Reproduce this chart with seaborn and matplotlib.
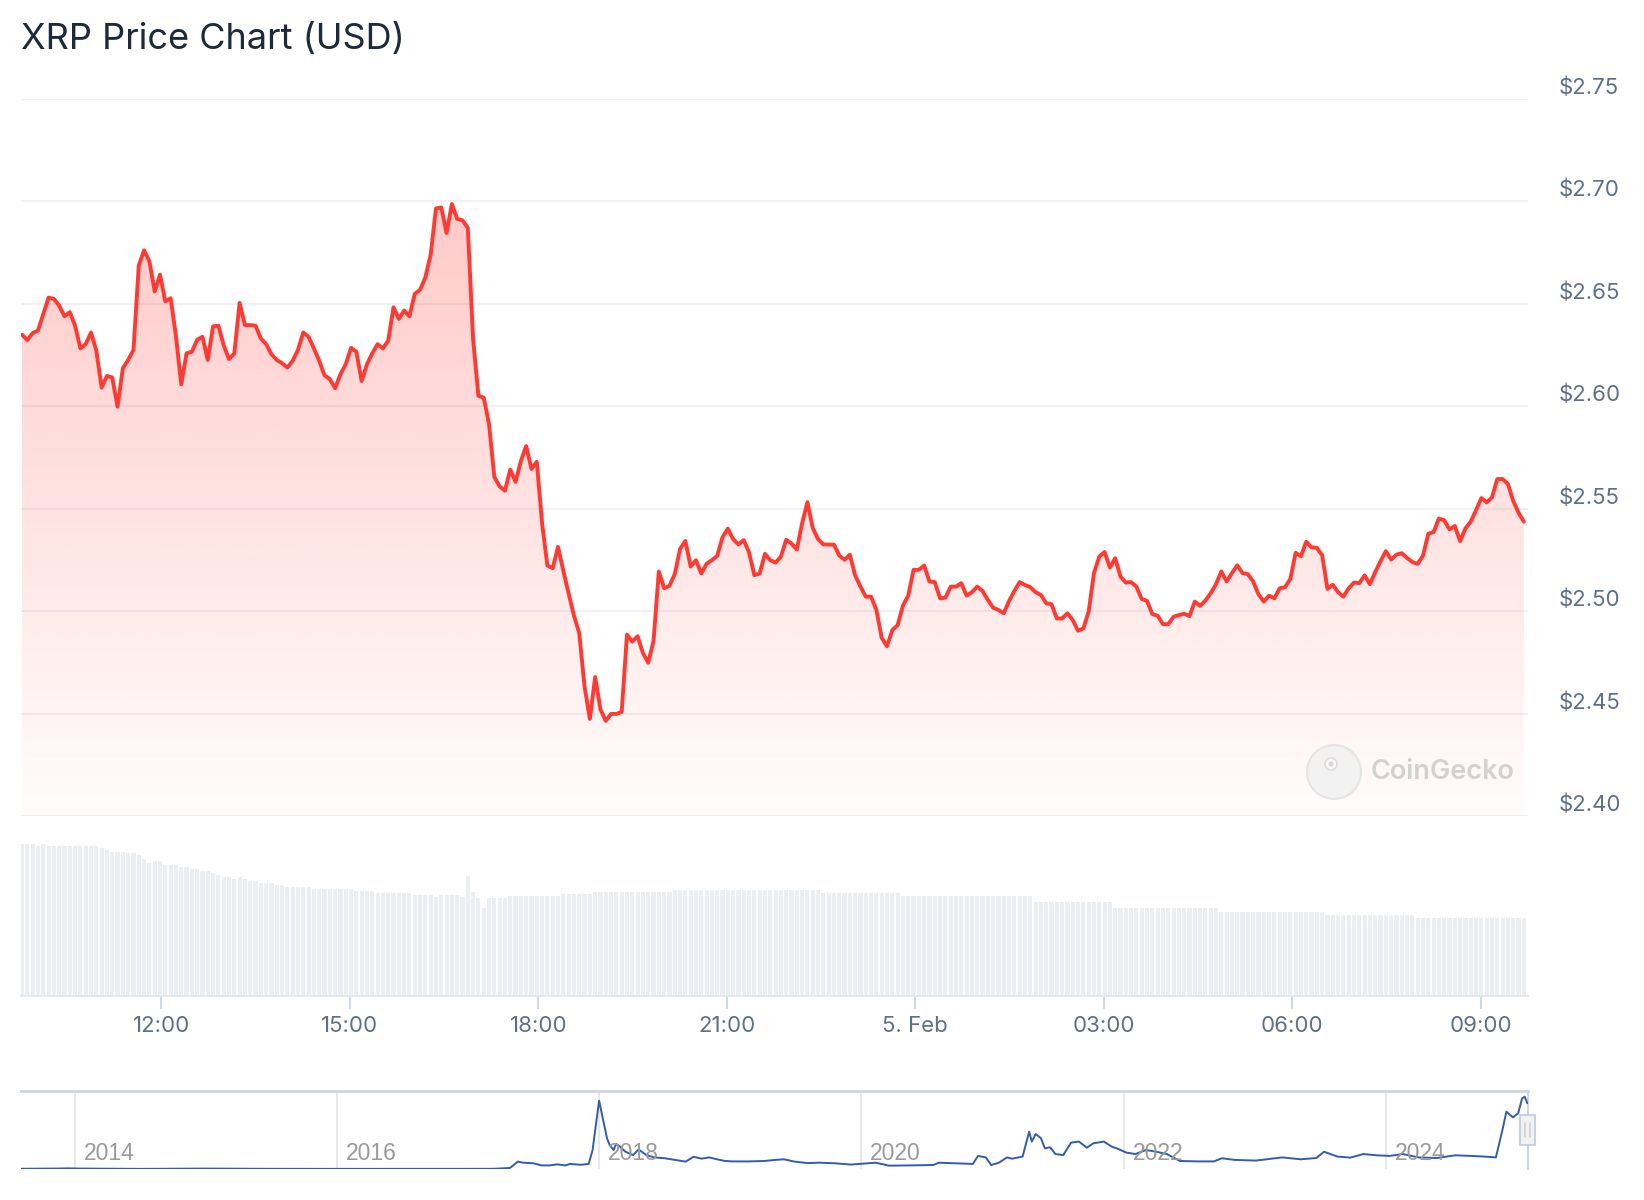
import numpy as np
import pandas as pd
import matplotlib
matplotlib.use("Agg")
import matplotlib.pyplot as plt
import matplotlib.transforms as mtransforms
import seaborn as sns
from matplotlib.patches import Ellipse, FancyBboxPatch
from matplotlib.colors import to_rgb

# ---------------- data ----------------
price = [
    2.6348, 2.6322, 2.6356, 2.6368, 2.6449, 2.6529, 2.6523, 2.6490, 2.6438, 2.6458,
    2.6392, 2.6281, 2.6302, 2.6359, 2.6270, 2.6090, 2.6147, 2.6139, 2.5997, 2.6185,
    2.6225, 2.6274, 2.6686, 2.6760, 2.6706, 2.6559, 2.6641, 2.6510, 2.6526, 2.6343,
    2.6106, 2.6257, 2.6265, 2.6323, 2.6338, 2.6225, 2.6389, 2.6392, 2.6297, 2.6229,
    2.6257, 2.6503, 2.6395, 2.6395, 2.6392, 2.6330, 2.6302, 2.6253, 2.6225, 2.6209,
    2.6188, 2.6221, 2.6274, 2.6359, 2.6338, 2.6281, 2.6221, 2.6150, 2.6131, 2.6087,
    2.6155, 2.6204, 2.6284, 2.6265, 2.6122, 2.6204, 2.6257, 2.6302, 2.6281, 2.6319,
    2.6482, 2.6425, 2.6466, 2.6438, 2.6547,
    2.6567, 2.6627, 2.6738, 2.6964, 2.6969, 2.6844, 2.6986, 2.6913, 2.6906, 2.6870,
    2.6327, 2.6050, 2.6041, 2.5913, 2.5654, 2.5608, 2.5587, 2.5690, 2.5630, 2.5731,
    2.5805, 2.5693, 2.5728, 2.5428, 2.5222, 2.5209, 2.5313, 2.5197, 2.5086, 2.4978,
    2.4892, 2.4632, 2.4474, 2.4678, 2.4520, 2.4464, 2.4498, 2.4498, 2.4508, 2.4885,
    2.4851, 2.4877, 2.4795, 2.4748, 2.4854, 2.5193, 2.5111, 2.5123, 2.5180, 2.5303,
    2.5342, 2.5217, 2.5248, 2.5183, 2.5231, 2.5248, 2.5269, 2.5360, 2.5402, 2.5351,
    2.5325, 2.5346, 2.5286, 2.5175, 2.5183, 2.5279, 2.5248, 2.5236, 2.5265, 2.5348,
    2.5329, 2.5300, 2.5428, 2.5531, 2.5406, 2.5351, 2.5325,
    2.5324, 2.5324, 2.5271, 2.5250, 2.5275, 2.5173, 2.5119, 2.5070, 2.5070, 2.5005,
    2.4869, 2.4828, 2.4907, 2.4931, 2.5026, 2.5075, 2.5201, 2.5201, 2.5222, 2.5144,
    2.5141, 2.5062, 2.5065, 2.5119, 2.5119, 2.5136, 2.5075, 2.5092, 2.5119, 2.5098,
    2.5054, 2.5016, 2.5005, 2.4989, 2.5049, 2.5098, 2.5141, 2.5127, 2.5116, 2.5092,
    2.5078, 2.5038, 2.5033, 2.4964, 2.4964, 2.4989, 2.4956, 2.4904, 2.4915, 2.4997,
    2.5185, 2.5266, 2.5288, 2.5212, 2.5258, 2.5168, 2.5139, 2.5141, 2.5119, 2.5059,
    2.5049, 2.4985, 2.4977, 2.4936, 2.4936, 2.4972,
    2.4980, 2.4987, 2.4975, 2.5046, 2.5025, 2.5051, 2.5087, 2.5131, 2.5193, 2.5144,
    2.5185, 2.5223, 2.5185, 2.5180, 2.5144, 2.5082, 2.5046, 2.5075, 2.5062, 2.5111,
    2.5116, 2.5156, 2.5284, 2.5267, 2.5338, 2.5311, 2.5308, 2.5272, 2.5108, 2.5128,
    2.5092, 2.5070, 2.5111, 2.5139, 2.5136, 2.5174, 2.5131, 2.5190, 2.5243, 2.5292,
    2.5251, 2.5275, 2.5282, 2.5259, 2.5239, 2.5230, 2.5270, 2.5377, 2.5385, 2.5451,
    2.5443, 2.5398, 2.5415, 2.5341, 2.5403, 2.5436, 2.5492, 2.5551, 2.5530, 2.5554,
    2.5644, 2.5644, 2.5620, 2.5538, 2.5480, 2.5436,
]

# 24h volume (billion USD, approximate bar heights)
volume = [
    15.2, 15.2, 15.2, 15.0, 15.2, 15.0, 15.0, 15.0, 15.0, 15.0, 15.0, 15.0, 15.0, 15.0, 15.0, 14.8, 14.6, 14.4, 14.4, 14.4,
    14.3, 14.3, 14.1, 13.7, 13.3, 13.5, 13.5, 13.1, 13.1, 13.1, 12.9, 12.9, 12.7, 12.7, 12.5, 12.5, 12.3, 12.1, 11.9, 11.9,
    11.7, 11.9, 11.7, 11.5, 11.5, 11.3, 11.3, 11.3, 11.1, 11.1, 10.9, 10.9, 10.9, 10.9, 10.9, 10.7, 10.7, 10.7, 10.7, 10.7,
    10.7, 10.7, 10.7, 10.5, 10.5, 10.5, 10.5, 10.3, 10.3, 10.3, 10.3, 10.3, 10.3, 10.3, 10.1, 10.1, 10.1, 10.1, 9.9, 10.1,
    10.1, 10.1, 10.1, 9.9, 12.0, 10.4, 9.8, 8.8, 9.8, 9.8, 9.8, 9.8, 10.0, 10.0, 10.0, 10.0, 10.0, 10.0, 10.0, 10.0,
    10.0, 10.0, 10.2, 10.2, 10.2, 10.2, 10.2, 10.2, 10.4, 10.4, 10.4, 10.4, 10.4, 10.4, 10.4, 10.4, 10.4, 10.4, 10.4, 10.4,
    10.4, 10.4, 10.4, 10.6, 10.6, 10.6, 10.6, 10.6, 10.6, 10.6, 10.6, 10.6, 10.6, 10.6, 10.6, 10.6, 10.6, 10.6, 10.6, 10.6,
    10.6, 10.6, 10.6, 10.6, 10.6, 10.6, 10.6, 10.6, 10.6, 10.6, 10.6, 10.3, 10.3, 10.3, 10.3, 10.3, 10.3, 10.3, 10.3, 10.3,
    10.3, 10.3, 10.3, 10.3, 10.3, 10.3, 10.0, 10.0, 10.0, 10.0, 10.0, 10.0, 10.0, 10.0, 10.0, 10.0, 10.0, 10.0, 10.0, 10.0,
    10.0, 10.0, 10.0, 10.0, 10.0, 10.0, 10.0, 10.0, 10.0, 10.0, 10.0, 9.4, 9.4, 9.4, 9.4, 9.4, 9.4, 9.4, 9.4, 9.4,
    9.4, 9.4, 9.4, 9.4, 9.4, 9.4, 8.8, 8.8, 8.8, 8.8, 8.8, 8.8, 8.8, 8.8, 8.8, 8.8, 8.8, 8.8, 8.8, 8.8,
    8.8, 8.8, 8.8, 8.8, 8.8, 8.8, 8.4, 8.4, 8.4, 8.4, 8.4, 8.4, 8.4, 8.4, 8.4, 8.4, 8.4, 8.4, 8.4, 8.4,
    8.4, 8.4, 8.4, 8.4, 8.4, 8.4, 8.1, 8.1, 8.1, 8.1, 8.1, 8.1, 8.1, 8.1, 8.1, 8.1, 8.1, 8.1, 8.1, 8.1,
    8.1, 8.1, 8.1, 7.8, 7.8, 7.8, 7.8, 7.8, 7.8, 7.8, 7.8, 7.8, 7.8, 7.8, 7.8, 7.8, 7.8, 7.8, 7.8, 7.8,
    7.8, 7.8, 7.8, 7.8,
]

price_ticks = [2.40, 2.45, 2.50, 2.55, 2.60, 2.65, 2.70, 2.75]
price_tick_labels = ["$2.40", "$2.45", "$2.50", "$2.55", "$2.60", "$2.65", "$2.70", "$2.75"]
time_ticks = ["2025-02-04 12:00", "2025-02-04 15:00", "2025-02-04 18:00", "2025-02-04 21:00",
              "2025-02-05 00:00", "2025-02-05 03:00", "2025-02-05 06:00", "2025-02-05 09:00"]
time_tick_labels = ["12:00", "15:00", "18:00", "21:00", "5. Feb", "03:00", "06:00", "09:00"]
first_time, last_time = "2025-02-04 09:47", "2025-02-05 09:41"
view_start, view_end = "2025-02-04 09:46", "2025-02-05 09:45"

nav_year = [2013.58, 2013.85, 2013.95, 2014.05, 2014.5, 2015.0, 2015.5, 2016.0, 2016.5, 2017.0,
            2017.2, 2017.32, 2017.38, 2017.42, 2017.50, 2017.56, 2017.62, 2017.68, 2017.74, 2017.78,
            2017.86, 2017.92, 2017.95, 2017.98, 2018.00, 2018.03, 2018.06, 2018.08, 2018.11, 2018.13,
            2018.16, 2018.20, 2018.26, 2018.30, 2018.36, 2018.42, 2018.50, 2018.58, 2018.66, 2018.72,
            2018.78, 2018.84, 2018.90, 2018.96, 2019.02, 2019.14, 2019.26, 2019.34, 2019.41, 2019.49,
            2019.59, 2019.68, 2019.80, 2019.92, 2020.11, 2020.21, 2020.37, 2020.55, 2020.59, 2020.85,
            2020.89, 2020.95, 2020.99, 2021.05, 2021.11, 2021.15, 2021.23, 2021.28, 2021.30, 2021.33,
            2021.37, 2021.40, 2021.44, 2021.48, 2021.54, 2021.60, 2021.66, 2021.72, 2021.77, 2021.85,
            2021.91, 2021.96, 2022.02, 2022.09, 2022.17, 2022.25, 2022.33, 2022.43, 2022.57, 2022.69,
            2022.75, 2022.85, 2023.01, 2023.21, 2023.35, 2023.47, 2023.53, 2023.63, 2023.73, 2023.83,
            2023.93, 2024.03, 2024.13, 2024.25, 2024.39, 2024.53, 2024.65, 2024.75, 2024.84, 2024.89,
            2024.92, 2024.97, 2025.01, 2025.04, 2025.06, 2025.08]
nav_price = [0.010, 0.020, 0.030, 0.020, 0.006, 0.020, 0.008, 0.006, 0.007, 0.007,
             0.010, 0.050, 0.350, 0.300, 0.270, 0.170, 0.170, 0.220, 0.170, 0.240,
             0.200, 0.240, 0.900, 2.330, 3.240, 2.330, 1.460, 1.140, 0.900, 1.190,
             1.060, 0.820, 0.660, 0.930, 0.660, 0.550, 0.510, 0.430, 0.350, 0.580,
             0.490, 0.550, 0.460, 0.380, 0.360, 0.360, 0.380, 0.430, 0.460, 0.350,
             0.280, 0.300, 0.270, 0.210, 0.300, 0.160, 0.170, 0.190, 0.300, 0.240,
             0.620, 0.550, 0.190, 0.300, 0.550, 0.490, 0.590, 1.770, 1.300, 1.660,
             1.460, 0.980, 1.030, 0.710, 0.660, 1.250, 1.300, 1.010, 1.220, 1.300,
             1.060, 0.950, 0.780, 0.710, 0.900, 0.820, 0.710, 0.380, 0.360, 0.360,
             0.510, 0.430, 0.400, 0.550, 0.460, 0.520, 0.820, 0.590, 0.540, 0.710,
             0.650, 0.620, 0.710, 0.550, 0.520, 0.650, 0.620, 0.590, 0.550, 1.850,
             2.720, 2.450, 2.640, 3.350, 3.430, 3.120]
nav_year_ticks = [2014, 2016, 2018, 2020, 2022, 2024]

# ---------------- styling ----------------
sns.set_theme(style="white")
plt.rcParams["font.family"] = ["Inter", "DejaVu Sans"]

RED = "#ff3a33"
GRID = "#eef1f5"
LABEL = "#5f6f86"
W, H = 1644, 1200

fig = plt.figure(figsize=(W / 100, H / 100), dpi=100)
fig.patch.set_facecolor("white")

midnight = pd.Timestamp("2025-02-04 00:00")
def to_hours(ts):
    return (pd.to_datetime(ts) - midnight) / pd.Timedelta(hours=1)

times = pd.date_range(first_time, last_time, periods=len(price))
hours = np.asarray(to_hours(times), dtype=float)
x0, x1 = float(to_hours(view_start)), float(to_hours(view_end))
tick_hours = [float(to_hours(t)) for t in time_ticks]

PL, PR = 21, 1528

# ---------------- main price panel ----------------
ax = fig.add_axes([PL / W, 1 - 816 / H, (PR - PL) / W, (816 - 98.6) / H])
ax.set_facecolor("none")
df = pd.DataFrame({"hours": hours, "price": price})

poly = ax.fill_between(df["hours"], df["price"], 2.40, color="none", lw=0)
grad = np.zeros((256, 1, 4))
grad[..., :3] = to_rgb(RED)
grad[:, 0, 3] = np.linspace(0.015, 0.27, 256)
img = ax.imshow(grad, aspect="auto", origin="lower",
                extent=[hours[0], hours[-1], 2.40, max(price)], zorder=1)
img.set_clip_path(poly.get_paths()[0], transform=ax.transData)

sns.lineplot(data=df, x="hours", y="price", ax=ax, color=RED, linewidth=2.8,
             estimator=None, zorder=3)

ax.set_xlim(x0, x1)
ax.set_ylim(2.40, 2.75)
ax.set_yticks(price_ticks)
ax.yaxis.grid(True, color=GRID, linewidth=1.5, zorder=0)
ax.xaxis.grid(False)
ax.set_axisbelow(True)
ax.tick_params(left=False, bottom=False, labelleft=False, labelbottom=False)
for s in ax.spines.values():
    s.set_visible(False)
ax.set_xlabel("")
ax.set_ylabel("")

lab_tr = mtransforms.offset_copy(ax.get_yaxis_transform(), fig=fig, x=0, y=11, units="dots")
for v, lab in zip(price_ticks, price_tick_labels):
    ax.text((1559 - PL) / (PR - PL), v, lab, transform=lab_tr, ha="left", va="center",
            fontsize=16, color=LABEL)

# watermark
cx, cy, r = 1334, 772, 27
fig.add_artist(Ellipse((cx / W, 1 - cy / H), 2 * r / W, 2 * r / H, transform=fig.transFigure,
                       facecolor="#f1f1f1", edgecolor="#e2e2e2", lw=1.5, alpha=0.85, zorder=2))
fig.add_artist(Ellipse(((cx - 3) / W, 1 - (cy - 8) / H), 12 / W, 12 / H, transform=fig.transFigure,
                       facecolor="#fafafa", edgecolor="#dcdcdc", lw=1.2, zorder=3))
fig.add_artist(Ellipse(((cx - 3) / W, 1 - (cy - 8) / H), 5 / W, 5 / H, transform=fig.transFigure,
                       facecolor="#d8d8d8", edgecolor="none", zorder=3))
fig.text(1371 / W, 1 - cy / H, "CoinGecko", fontsize=19.5, color="#d2d2d2",
         fontweight="semibold", ha="left", va="center", zorder=3)

# ---------------- volume panel ----------------
axv = fig.add_axes([PL / W, 1 - 996 / H, (PR - PL) / W, 166 / H])
axv.set_facecolor("none")
dfv = pd.DataFrame({"hours": hours, "volume": volume})
sns.barplot(data=dfv, x="hours", y="volume", native_scale=True, ax=axv,
            color="#ebeef2", saturation=1, width=0.78, linewidth=0, errorbar=None)
axv.set_xlim(x0, x1)
axv.set_ylim(0, 16.6)
axv.set_xlabel("")
axv.set_ylabel("")
for k, s in axv.spines.items():
    s.set_visible(k == "bottom")
axv.spines["bottom"].set_color("#e3e8ef")
axv.spines["bottom"].set_linewidth(1.5)
axv.set_yticks([])
axv.set_xticks(tick_hours)
axv.set_xticklabels(time_tick_labels, fontsize=16, color=LABEL)
axv.tick_params(axis="x", length=9.5, width=1.3, color="#ccd6eb", pad=5, bottom=True)
axv.grid(False)

# ---------------- navigator ----------------
axn = fig.add_axes([PL / W, 1 - 1169 / H, (PR - PL) / W, 78 / H])
axn.set_facecolor("none")
dfn = pd.DataFrame({"year": nav_year, "price": nav_price})
sns.lineplot(data=dfn, x="year", y="price", ax=axn, color="#335cad", linewidth=1.4,
             estimator=None, zorder=3)
axn.set_xlim(2013.59, 2025.085)
axn.set_ylim(0, 3.7)
axn.set_xlabel("")
axn.set_ylabel("")
axn.set_yticks([])
axn.set_xticks(nav_year_ticks)
axn.tick_params(axis="x", length=0, labelbottom=False)
axn.grid(False)
axn.xaxis.grid(True, color="#e4e6ea", linewidth=1.3)
for k, s in axn.spines.items():
    s.set_visible(k in ("top", "right"))
axn.spines["top"].set_color("#ccd6e0")
axn.spines["top"].set_linewidth(2)
axn.spines["right"].set_color("#ccd6e0")
axn.spines["right"].set_linewidth(1.5)
yr_tr = mtransforms.offset_copy(axn.get_xaxis_transform(), fig=fig, x=9, y=0, units="dots")
for yv in nav_year_ticks:
    axn.text(yv, (1169 - 1153) / 78, str(yv), transform=yr_tr, ha="left", va="center",
             fontsize=16.5, color="#9a9a9a", family=["Liberation Sans", "DejaVu Sans"])

# navigator handle
hx0, hx1, hy0, hy1 = 1520, 1535, 1115, 1145
fig.add_artist(FancyBboxPatch((hx0 / W, 1 - hy1 / H), (hx1 - hx0) / W, (hy1 - hy0) / H,
                              boxstyle="square,pad=0", transform=fig.transFigure,
                              facecolor="#f2f2f2", edgecolor="#c8d1dc", lw=1.5, zorder=5))
for dx in (-2.5, 2.5):
    xx = ((hx0 + hx1) / 2 + dx) / W
    fig.add_artist(plt.Line2D([xx, xx], [1 - 1123 / H, 1 - 1137 / H], transform=fig.transFigure,
                              color="#c8d1dc", lw=1.2, zorder=6))

# ---------------- title ----------------
fig.text(21 / W, 1 - 49 / H, "XRP Price Chart (USD)", fontsize=26, color="#1e293b",
         ha="left", va="baseline")

fig.savefig("out.png", dpi=100, facecolor="white")
